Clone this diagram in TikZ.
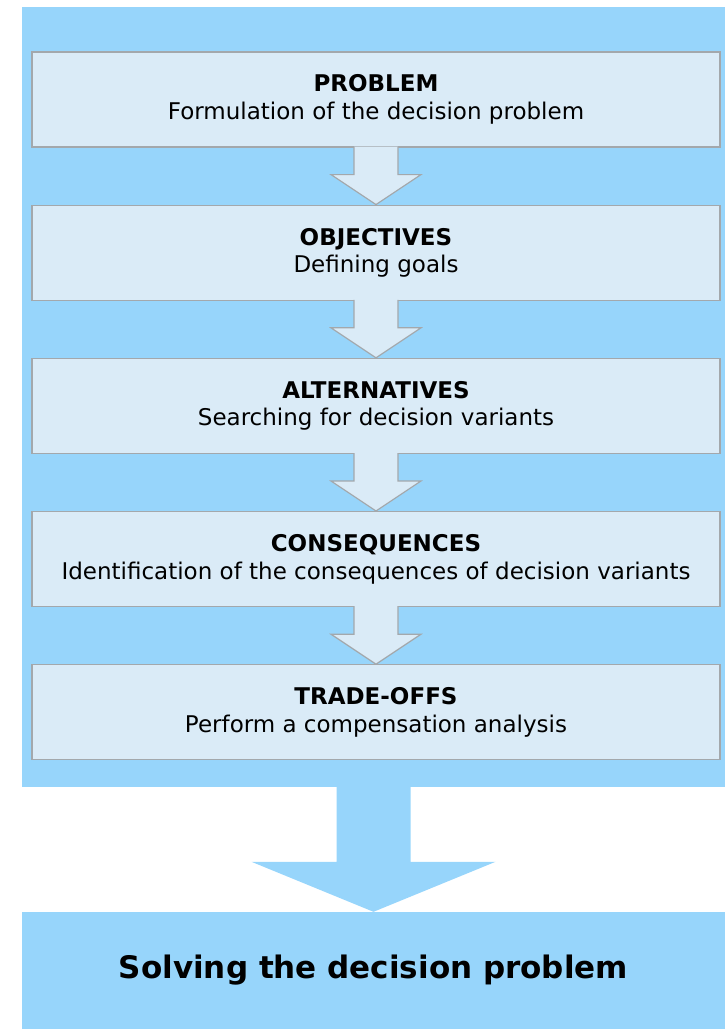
\documentclass[tikz,border=0pt]{standalone}
\usepackage{fontspec}
\setmainfont{DejaVu Sans}
\usetikzlibrary{positioning}
\usetikzlibrary{calc}

\definecolor{panelblue}{HTML}{97D5FB}
\definecolor{boxblue}{HTML}{DAEBF7}
\definecolor{boxline}{HTML}{A3A8AC}

\tikzset{
    panelbox/.style={fill=panelblue, inner sep=0, minimum width=703pt},
    stepbox/.style={draw=boxline, fill=boxblue, line width=1.2pt, inner sep=0,
        minimum width=688pt, minimum height=95pt, align=center,
        font=\fontsize{23}{27.5}\selectfont},
    steparrow/.style={draw=boxline, fill=boxblue, line width=1.2pt, line join=miter},
}

% block arrow from one box down to the next one
\newcommand{\stepdown}[2]{%
    \filldraw[steparrow] ($(#1.south)+(-22,1)$) -- ($(#2.north)+(-22,30)$)
        -- ($(#2.north)+(-45,30)$) -- (#2.north) -- ($(#2.north)+(45,30)$)
        -- ($(#2.north)+(22,30)$) -- ($(#1.south)+(22,1)$);
}

\begin{document}
\begin{tikzpicture}[x=1pt, y=1pt]
    \useasboundingbox (0,0) rectangle (725,-1029);

    % background panel and result box
    \node[panelbox, minimum height=780pt] (panel) at (373.5,-397) {};
    \node[panelbox, minimum height=117pt, font=\fontsize{31}{36}\selectfont\bfseries]
        (result) at (373.5,-970.5) {Solving the decision problem};

    % the five steps
    \node[stepbox] (problem) at (376,-99.5) {\textbf{PROBLEM}\\Formulation of the decision problem};
    \node[stepbox, below=57pt of problem] (objectives) {\textbf{OBJECTIVES}\\Defining goals};
    \node[stepbox, below=57pt of objectives] (alternatives) {\textbf{ALTERNATIVES}\\Searching for decision variants};
    \node[stepbox, below=57pt of alternatives] (consequences) {\textbf{CONSEQUENCES}\\Identification of the consequences of decision variants};
    \node[stepbox, below=57pt of consequences] (tradeoffs) {\textbf{TRADE-OFFS}\\Perform a compensation analysis};

    \stepdown{problem}{objectives}
    \stepdown{objectives}{alternatives}
    \stepdown{alternatives}{consequences}
    \stepdown{consequences}{tradeoffs}

    % big arrow to the result
    \fill[panelblue] ($(panel.south)+(-37,1)$) -- ($(result.north)+(-37,50)$)
        -- ($(result.north)+(-122,50)$) -- (result.north) -- ($(result.north)+(122,50)$)
        -- ($(result.north)+(37,50)$) -- ($(panel.south)+(37,1)$) -- cycle;
\end{tikzpicture}
\end{document}
